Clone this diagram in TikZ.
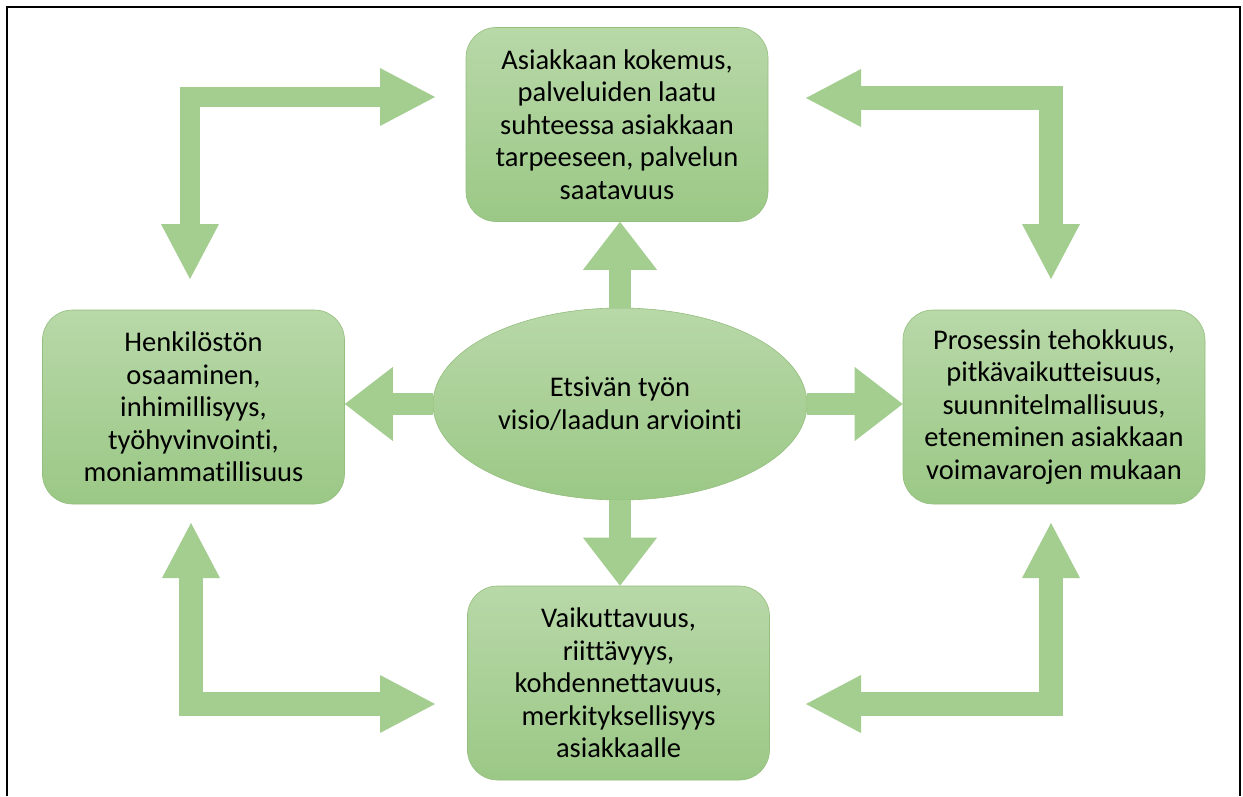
\documentclass[tikz,border=0pt]{standalone}
\usepackage{fontspec}
\setmainfont{Carlito}[RawFeature={-liga;-clig;-dlig}]
\usetikzlibrary{arrows.meta,shapes.geometric}
\definecolor{gtop}{RGB}{184,216,168}
\definecolor{gbot}{RGB}{155,200,134}
\definecolor{gedge}{RGB}{148,190,126}
\definecolor{garrow}{RGB}{164,205,144}
\begin{document}
\begin{tikzpicture}[x=1pt,y=-1pt,
  txt/.style={align=center, font=\fontsize{28.5}{32.5}\selectfont},
  box/.style={txt, rectangle, rounded corners=30pt, top color=gtop, bottom color=gbot,
    draw=gedge, line width=0.6pt, inner sep=0pt, minimum width=302pt, minimum height=194pt},
  oval/.style={txt, ellipse, top color=gtop, bottom color=gbot, draw=gedge, line width=0.6pt,
    inner sep=0pt, minimum width=374pt, minimum height=192pt},
  harrow/.style={draw=garrow, line width=22pt, -{Triangle[length=48pt,width=74pt,line width=0pt]}},
  elbow/.style={draw=garrow, line width=24pt, line join=miter,
    {Triangle[length=55pt,width=58pt,line width=0pt]}-{Triangle[length=55pt,width=58pt,line width=0pt]}}]
\useasboundingbox (0,0) rectangle (1243,796);
\fill[white] (0,0) rectangle (1243,796);
\draw[line width=2pt] (7,796) -- (7,7) -- (1240,7) -- (1240,796);

\node[box] (top) at (617,124.5) {Asiakkaan kokemus,\\palveluiden laatu\\suhteessa asiakkaan\\tarpeeseen, palvelun\\saatavuus};
\node[box] (left) at (193.5,407) {Henkilöstön\\osaaminen,\\inhimillisyys,\\työhyvinvointi,\\moniammatillisuus};
\node[box] (right) at (1054,407) {Prosessin tehokkuus,\\pitkävaikutteisuus,\\suunnitelmallisuus,\\eteneminen asiakkaan\\voimavarojen mukaan};
\node[box] (bot) at (618.5,683) {Vaikuttavuus,\\riittävyys,\\kohdennettavuus,\\merkityksellisyys\\asiakkaalle};
\node[oval, font=\fontsize{28.5}{33.5}\selectfont] (ell) at (620,404) {Etsivän työn\\visio/laadun arviointi};

\draw[harrow] (ell.north) -- (ell.north |- top.south);
\draw[harrow] (ell.south) -- (ell.south |- bot.north);
\draw[harrow] (ell.west) -- (ell.west -| left.east);
\draw[harrow] (ell.east) -- (ell.east -| right.west);

\coordinate (tl1) at (190,279);
\coordinate (tl2) at (435,97);
\coordinate (tr1) at (806,98);
\coordinate (tr2) at (1051,279);
\coordinate (bl1) at (191,523);
\coordinate (bl2) at (435,704);
\coordinate (br1) at (806,704);
\coordinate (br2) at (1051,523);
\draw[elbow, line width=20pt] (tl1) |- (tl2);
\draw[elbow] (tr1) -| (tr2);
\draw[elbow] (bl1) |- (bl2);
\draw[elbow] (br1) -| (br2);
\end{tikzpicture}
\end{document}
